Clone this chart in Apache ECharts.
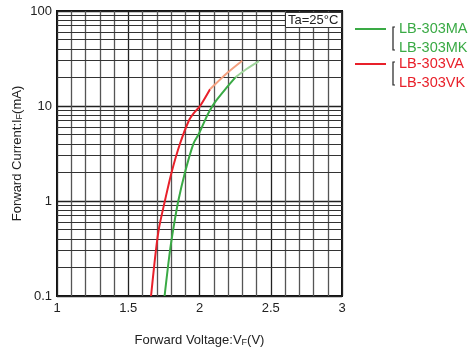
<!DOCTYPE html>
<html>
<head>
<meta charset="utf-8">
<title>Forward Current vs Forward Voltage</title>
<script src="https://cdn.jsdelivr.net/npm/echarts@6/dist/echarts.min.js"></script>
<style>
  html, body { margin: 0; padding: 0; background: #fff; }
  #chart { width: 474px; height: 352px; }
</style>
</head>
<body>
<div id="chart"></div>
<script>
// 曲线数据 [电压V, 电流mA]
const redMain = [[1.66, 0.1], [1.694, 0.3], [1.717, 0.53], [1.757, 1.0], [1.804, 2.0], [1.863, 4.0],
  [1.925, 7.0], [1.96, 8.4], [2.004, 10], [2.074, 15]];
const redTail = [[2.074, 15], [2.19, 22], [2.30, 30]];
const greenMain = [[1.755, 0.1], [1.793, 0.3], [1.82, 0.55], [1.851, 1.0], [1.898, 2.0], [1.957, 4.0],
  [1.996, 5.1], [2.039, 7.1], [2.062, 8.4], [2.109, 11], [2.179, 14.9], [2.252, 20]];
const greenTail = [[2.252, 20], [2.33, 24.5], [2.418, 29.7]];

// 刻度
const xTicks = [1, 1.5, 2, 2.5, 3];
const yTicks = [0.1, 1, 10, 100];
// 对数轴的次网格线 (2..9 每个十倍程)
const yMinorLines = [0.2, 0.3, 0.4, 0.5, 0.6, 0.7, 0.8, 0.9,
  2, 3, 4, 5, 6, 7, 8, 9,
  20, 30, 40, 50, 60, 70, 80, 90];

// 图例
const legendGreen = ['LB-303MA', 'LB-303MK'];
const legendRed = ['LB-303VA', 'LB-303VK'];

const GREEN = '#3aaa45';
const GREEN_LIGHT = '#9fd49b';
const RED = '#e8202a';
const RED_LIGHT = '#f4a07f';
const FONT = 'Liberation Sans, Arial, sans-serif';

const chart = echarts.init(document.getElementById('chart'));

function legendGroup(names, color, y) {
  return [
    { type: 'line', shape: { x1: 355, y1: y, x2: 386, y2: y }, style: { stroke: color, lineWidth: 2 } },
    { type: 'polyline', shape: { points: [[395, y - 2], [393, y - 2], [393, y + 21], [395, y + 21]] },
      style: { stroke: '#222', lineWidth: 1.2, fill: null } },
    { type: 'text', left: 399, top: y - 8, style: { text: names[0], fill: color, font: '14.5px ' + FONT } },
    { type: 'text', left: 399, top: y + 11, style: { text: names[1], fill: color, font: '14.5px ' + FONT } }
  ];
}

const option = {
  animation: false,
  textStyle: { fontFamily: FONT },
  title: {
    text: 'Ta=25°C',
    left: 285, top: 12,
    padding: [2, 3, 1, 3],
    borderColor: '#333', borderWidth: 1,
    backgroundColor: '#fff',
    textStyle: { fontSize: 13, fontWeight: 'normal', color: '#222', fontFamily: FONT }
  },
  grid: {
    left: 57, right: 132, top: 11, bottom: 56,
    outerBoundsMode: 'none',
    show: true, borderColor: '#111', borderWidth: 2, backgroundColor: 'transparent'
  },
  xAxis: {
    type: 'value',
    min: xTicks[0], max: xTicks[xTicks.length - 1], interval: 0.5,
    name: 'Forward Voltage:V{s|F}(V)',
    nameLocation: 'middle', nameGap: 38,
    nameTextStyle: { fontSize: 13, color: '#222', rich: { s: { fontSize: 9, color: '#222', padding: [4, 0, 0, 0] } } },
    axisLine: { show: false },
    axisTick: { show: false },
    axisLabel: { fontSize: 13, color: '#222', margin: 6, formatter: v => String(v) },
    splitLine: { show: true, lineStyle: { color: '#222', width: 1.3 } },
    minorTick: { show: false, splitNumber: 5 },
    minorSplitLine: { show: true, lineStyle: { color: '#555', width: 1.3 } }
  },
  yAxis: {
    type: 'log', logBase: 10,
    min: yTicks[0], max: yTicks[yTicks.length - 1],
    name: 'Forward Current:I{s|F}(mA)',
    nameLocation: 'middle', nameGap: 33,
    nameMoveOverlap: false,
    nameTextStyle: { fontSize: 13, color: '#222', rich: { s: { fontSize: 9, color: '#222', padding: [4, 0, 0, 0] } } },
    axisLine: { show: false },
    axisTick: { show: false },
    axisLabel: { fontSize: 13, color: '#222', margin: 5, formatter: v => String(v) },
    splitLine: { show: true, lineStyle: { color: '#222', width: 1.3 } }
  },
  series: [
    {
      // 次网格线
      name: 'grid', type: 'line', data: [], silent: true,
      markLine: {
        silent: true, symbol: 'none', animation: false,
        label: { show: false },
        lineStyle: { color: '#333', width: 1.2, type: 'solid' },
        data: yMinorLines.map(v => ({ yAxis: v }))
      }
    },
    { name: 'LB-303VA', type: 'line', data: redMain, showSymbol: false, smooth: 0.3,
      lineStyle: { color: RED, width: 2 }, z: 5 },
    { name: 'LB-303VA tail', type: 'line', data: redTail, showSymbol: false, smooth: 0.3,
      lineStyle: { color: RED_LIGHT, width: 2 }, z: 5 },
    { name: 'LB-303MA', type: 'line', data: greenMain, showSymbol: false, smooth: 0.3,
      lineStyle: { color: GREEN, width: 2 }, z: 5 },
    { name: 'LB-303MA tail', type: 'line', data: greenTail, showSymbol: false, smooth: 0.3,
      lineStyle: { color: GREEN_LIGHT, width: 2 }, z: 5 }
  ],
  graphic: [].concat(legendGroup(legendGreen, GREEN, 29), legendGroup(legendRed, RED, 64))
};

chart.setOption(option);
</script>
</body>
</html>
